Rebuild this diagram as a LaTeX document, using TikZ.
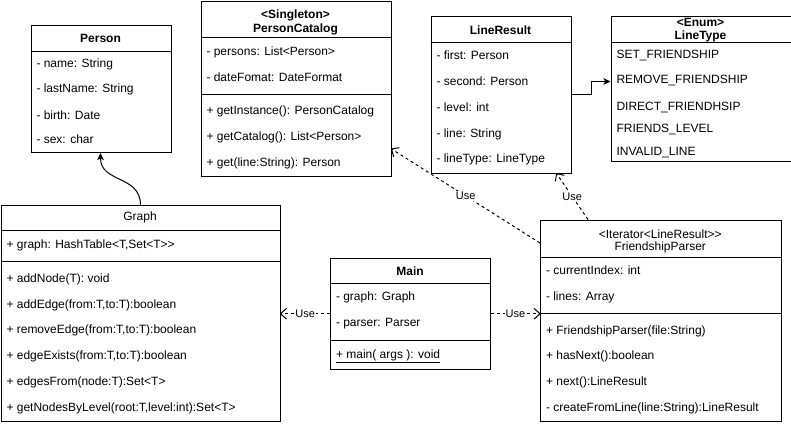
\documentclass[tikz,border=0pt]{standalone}
\usepackage{fontspec}
\setmainfont{Liberation Sans}
\usetikzlibrary{arrows.meta,calc}
\begin{document}
\begin{tikzpicture}[x=1pt,y=-1pt,line width=1pt,
  font=\fontsize{12}{14}\selectfont,
  cls/.style={draw,rectangle,inner sep=0pt,anchor=north west},
  txt/.style={inner sep=0pt,anchor=west},
  hdr/.style={inner sep=0pt,anchor=center,font=\fontsize{12}{14}\selectfont\bfseries},
  hdrn/.style={inner sep=0pt,anchor=center},
  dep/.style={dash pattern=on 3pt off 3pt},
  barb/.style={solid,line join=miter},
  assoc/.style={-{Stealth[length=7pt,width=6.5pt,inset=1.5pt]}},
  lbl/.style={fill=white,inner sep=1pt,font=\fontsize{11}{13}\selectfont}]
\useasboundingbox (0,0) rectangle (791,425);

% ---------- Person ----------
\node[cls,minimum width=140pt,minimum height=127pt] (person) at (30.5,25) {};
\draw (30.5,51.5) -- (170.5,51.5);
\node[hdr] (person-h) at (100.5,38) {Person};
\node[txt] (person-1) at (36,64.5) {- name: String};
\node[txt] (person-2) at (36,89.5) {- lastName: String};
\node[txt] (person-3) at (36,115) {- birth: Date};
\node[txt] (person-4) at (36,139) {- sex: char};

% ---------- PersonCatalog ----------
\node[cls,minimum width=190pt,minimum height=175pt] (pc) at (200.5,1) {};
\draw (200.5,38) -- (390.5,38);
\draw (200.5,94.5) -- (390.5,94.5);
\node[hdr] (pc-h1) at (295.5,15) {<Singleton>};
\node[hdr] (pc-h2) at (295.5,29) {PersonCatalog};
\node[txt] (pc-1) at (206,52.3) {- persons: List<Person>};
\node[txt] (pc-2) at (206,77.7) {- dateFomat: DateFormat};
\node[txt] (pc-3) at (206,111.7) {+ getInstance(): PersonCatalog};
\node[txt] (pc-4) at (206,137.3) {+ getCatalog(): List<Person>};
\node[txt] (pc-5) at (206,163.3) {+ get(line:String): Person};

% ---------- LineResult ----------
\node[cls,minimum width=140pt,minimum height=156.5pt] (lr) at (430.5,16) {};
\draw (430.5,42.5) -- (570.5,42.5);
\node[hdr] (lr-h) at (500.5,30.5) {LineResult};
\node[txt] (lr-1) at (436,55.7) {- first: Person};
\node[txt] (lr-2) at (436,81.7) {- second: Person};
\node[txt] (lr-3) at (436,107.7) {- level: int};
\node[txt] (lr-4) at (436,134) {- line: String};
\node[txt] (lr-5) at (436,159.5) {- lineType: LineType};

% ---------- LineType ----------
\node[cls,minimum width=180pt,minimum height=144.5pt] (lt) at (610.5,16) {};
\draw (610.5,42.5) -- (790.5,42.5);
\node[hdr] (lt-h1) at (700.5,22) {<Enum>};
\node[hdr] (lt-h2) at (700.5,36.5) {LineType};
\node[txt] (lt-1) at (616,55.7) {SET\_FRIENDSHIP};
\node[txt] (lt-2) at (616,81) {REMOVE\_FRIENDSHIP};
\node[txt] (lt-3) at (616,107.7) {DIRECT\_FRIENDHSIP};
\node[txt] (lt-4) at (616,130) {FRIENDS\_LEVEL};
\node[txt] (lt-5) at (616,152.3) {INVALID\_LINE};

% ---------- Graph ----------
\node[cls,minimum width=279pt,minimum height=215.5pt] (graph) at (0.5,205) {};
\draw (0.5,230) -- (279.5,230);
\draw (0.5,261) -- (279.5,261);
\node[hdrn] (graph-h) at (140,217.7) {Graph};
\node[txt] (graph-1) at (6,245.7) {+ graph: HashTable<T,Set<T>{}>};
\node[txt] (graph-2) at (6,279.3) {+ addNode(T): void};
\node[txt] (graph-3) at (6,305) {+ addEdge(from:T,to:T):boolean};
\node[txt] (graph-4) at (6,330.7) {+ removeEdge(from:T,to:T):boolean};
\node[txt] (graph-5) at (6,356.7) {+ edgeExists(from:T,to:T):boolean};
\node[txt] (graph-6) at (6,382.7) {+ edgesFrom(node:T):Set<T>};
\node[txt] (graph-7) at (6,408.3) {+ getNodesByLevel(root:T,level:int):Set<T>};

% ---------- Main ----------
\node[cls,minimum width=160pt,minimum height=111.5pt] (main) at (330,257.5) {};
\draw (330,283.5) -- (490,283.5);
\draw (330,340) -- (490,340);
\node[hdr] (main-h) at (410,271.7) {Main};
\node[txt] (main-1) at (335.5,297.3) {- graph: Graph};
\node[txt] (main-2) at (335.5,323.3) {- parser: Parser};
\node[txt] (main-3) at (335.5,356.7) {\underline{+ main( args ): void}};

% ---------- FriendshipParser ----------
\node[cls,minimum width=240.5pt,minimum height=201pt] (fp) at (540,219.5) {};
\draw (540,257.5) -- (780.5,257.5);
\draw (540,313.5) -- (780.5,313.5);
\node[hdrn] (fp-h1) at (660.25,234.3) {<Iterator<LineResult>{}>};
\node[hdrn] (fp-h2) at (660.25,247.8) {FriendshipParser};
\node[txt] (fp-1) at (545.5,270.7) {- currentIndex: int};
\node[txt] (fp-2) at (545.5,297.3) {- lines: Array};
\node[txt] (fp-3) at (545.5,331.7) {+ FriendshipParser(file:String)};
\node[txt] (fp-4) at (545.5,356.7) {+ hasNext():boolean};
\node[txt] (fp-5) at (545.5,382.7) {+ next():LineResult};
\node[txt] (fp-6) at (545.5,408) {- createFromLine(line:String):LineResult};

% ---------- Connectors ----------
\draw[assoc] ([xshift=140pt]graph.north west) .. controls +(0,-30) and +(0,30) .. ([xshift=70pt]person.south west);
\draw[assoc] (lr.east) -- ++(20,0) |- ([yshift=7.25pt]lt.west);

\coordinate (d1s) at (main.west);
\coordinate (d1e) at (main.west -| graph.east);
\coordinate (d2s) at (main.east);
\coordinate (d2e) at (main.east -| fp.west);
\coordinate (d3s) at ([yshift=-23.5pt]fp.north west);
\coordinate (d3e) at ([yshift=-148pt]pc.north east);
\coordinate (d4s) at ([xshift=48pt]fp.north west);
\coordinate (d4e) at ([xshift=126pt]lr.south west);

\draw[dep] (d1s) -- node[lbl] (u1) {Use} (d1e);
\draw[dep] (d2s) -- node[lbl] (u2) {Use} (d2e);
\draw[dep] (d3s) -- node[lbl] (u3) {Use} (d3e);
\draw[dep] (d4s) -- node[lbl] (u4) {Use} (d4e);
\foreach \k in {1,2,3,4}{
  \draw[barb] ($(d\k e)!8pt!42:(d\k s)$) -- (d\k e) -- ($(d\k e)!8pt!-42:(d\k s)$);
}
\end{tikzpicture}
\end{document}
